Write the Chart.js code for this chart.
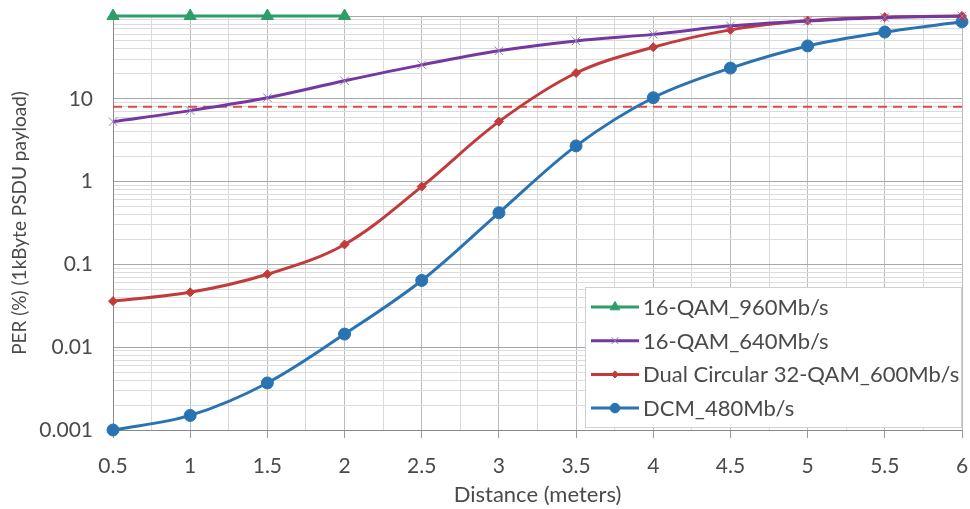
<!DOCTYPE html>
<html>
  <head>
    <title>PER vs Distance</title>
    <style>
      html, body { margin: 0; padding: 0; background: #fff; }
      #wrap { width: 970px; height: 509px; }
    </style>
  </head>
  <body>
    <script src="https://cdn.jsdelivr.net/npm/chart.js"></script>

    <div id="wrap"><canvas id="perChart" width="970" height="509"></canvas></div>

    <script>
      // distances (meters) and PER (%) per modulation
      const distances = [0.5, 1, 1.5, 2, 2.5, 3, 3.5, 4, 4.5, 5, 5.5, 6];
      const qam960 = [100, 100, 100, 100];
      const qam640 = [5.3, 7.2, 10.3, 16.5, 25.7, 38, 50, 60, 76, 87, 96, 100];
      const dualCircular600 = [0.036, 0.046, 0.076, 0.174, 0.87, 5.3, 20.5, 42, 68, 88, 97, 100];
      const dcm480 = [0.001, 0.0015, 0.0037, 0.0144, 0.064, 0.42, 2.7, 10.3, 23.5, 43.5, 64, 85];
      const perLimit = 8; // dashed target line

      const xTickLabels = [0.5, 1, 1.5, 2, 2.5, 3, 3.5, 4, 4.5, 5, 5.5, 6];
      const yTickLabels = [0.001, 0.01, 0.1, 1, 10];
      const seriesNames = ['16-QAM_960Mb/s', '16-QAM_640Mb/s', 'Dual Circular 32-QAM_600Mb/s', 'DCM_480Mb/s'];

      const FONT = 'Lato, "Open Sans", sans-serif';
      const TEXT = '#4a4a4a';

      const toPoints = vals => vals.map((v, i) => ({ x: distances[i], y: v }));

      // decade grid: 1..9 x 10^e from 0.001 up to 100
      function logTicks() {
        const out = [];
        for (let e = -3; e <= 1; e++) {
          for (let m = 1; m <= 9; m++) out.push(+(m * Math.pow(10, e)).toPrecision(3));
        }
        out.push(100);
        return out;
      }
      const isDecade = v => Math.abs(Math.log10(v) - Math.round(Math.log10(v))) < 1e-9;
      const isHalf = v => Math.abs(v * 2 - Math.round(v * 2)) < 1e-9;

      // legend drawn inside the plot, bottom right, like the original
      const insideLegend = {
        id: 'insideLegend',
        afterDraw(chart) {
          const ctx = chart.ctx;
          const area = chart.chartArea;
          const x0 = 585, y0 = 287, x1 = area.right, y1 = area.bottom - 2;
          ctx.save();
          ctx.fillStyle = '#fff';
          ctx.fillRect(x0, y0, x1 - x0, y1 - y0);
          ctx.strokeStyle = '#d0d0d0';
          ctx.lineWidth = 1;
          ctx.strokeRect(x0 + 0.5, y0 + 0.5, x1 - x0 - 1, y1 - y0 - 1);
          ctx.font = '22px ' + FONT;
          ctx.textBaseline = 'middle';
          for (let i = 0; i < 4; i++) {
            const ds = chart.data.datasets[i];
            const cy = 307 + i * 33.7;
            ctx.strokeStyle = ds.borderColor;
            ctx.lineWidth = 3;
            ctx.beginPath();
            ctx.moveTo(591, cy);
            ctx.lineTo(639, cy);
            ctx.stroke();
            ctx.fillStyle = ds.pointBackgroundColor;
            ctx.strokeStyle = ds.pointBorderColor;
            ctx.lineWidth = ds.pointBorderWidth;
            Chart.helpers.drawPoint(ctx, { pointStyle: ds.pointStyle, radius: ds.pointRadius * 0.8, rotation: 0, borderWidth: ds.pointBorderWidth }, 615, cy);
            ctx.fillStyle = TEXT;
            ctx.fillText(seriesNames[i], 643, cy + 1);
          }
          ctx.restore();
        }
      };

      const ctx = document.getElementById('perChart').getContext('2d');
      const chart = new Chart(ctx, {
        type: 'line',
        data: {
          datasets: [
            {
              label: seriesNames[0],
              data: toPoints(qam960),
              borderColor: '#2e9e68',
              backgroundColor: '#2e9e68',
              pointBackgroundColor: '#2e9e68',
              pointBorderColor: '#2e9e68',
              pointBorderWidth: 1,
              pointStyle: 'triangle',
              pointRadius: 7,
              borderWidth: 3,
              tension: 0,
              clip: false,
            },
            {
              label: seriesNames[1],
              data: toPoints(qam640),
              borderColor: '#7438a0',
              backgroundColor: '#7438a0',
              pointBackgroundColor: '#7438a0',
              pointBorderColor: '#9a78b8',
              pointBorderWidth: 1,
              pointStyle: 'crossRot',
              pointRadius: 6,
              borderWidth: 3,
              tension: 0.35,
              clip: false,
            },
            {
              label: seriesNames[2],
              data: toPoints(dualCircular600),
              borderColor: '#c23b3b',
              backgroundColor: '#c23b3b',
              pointBackgroundColor: '#c23b3b',
              pointBorderColor: '#c23b3b',
              pointBorderWidth: 1,
              pointStyle: 'rectRot',
              pointRadius: 4.5,
              borderWidth: 3,
              tension: 0.35,
              clip: false,
            },
            {
              label: seriesNames[3],
              data: toPoints(dcm480),
              borderColor: '#2a73b2',
              backgroundColor: '#2a73b2',
              pointBackgroundColor: '#2a73b2',
              pointBorderColor: '#2a73b2',
              pointBorderWidth: 1,
              pointStyle: 'circle',
              pointRadius: 6,
              borderWidth: 3,
              tension: 0.35,
              clip: false,
            },
            {
              label: 'limit',
              data: [{ x: distances[0], y: perLimit }, { x: distances[distances.length - 1], y: perLimit }],
              borderColor: '#dc4a48',
              borderWidth: 2,
              borderDash: [9, 6],
              pointRadius: 0,
              tension: 0,
            },
          ],
        },
        options: {
          responsive: false,
          animation: false,
          layout: { padding: { top: 16, right: 7, left: 0, bottom: 0 } },
          plugins: {
            legend: { display: false },
            tooltip: { enabled: false },
          },
          scales: {
            x: {
              type: 'linear',
              min: 0.5,
              max: 6,
              afterFit: s => { s.height = 79; s.paddingLeft = 0; s.paddingRight = 0; },
              afterBuildTicks: s => {
                const t = [];
                for (let v = 0.5; v <= 6.001; v += 0.25) t.push({ value: +v.toFixed(2) });
                s.ticks = t;
              },
              ticks: {
                autoSkip: false,
                maxRotation: 0,
                padding: 16,
                color: TEXT,
                font: { family: FONT, size: 21 },
                callback: v => (xTickLabels.includes(v) ? String(v) : ''),
              },
              grid: {
                color: c => (isHalf(c.tick.value) ? '#bcbcbc' : '#dadada'),
                tickColor: c => (isHalf(c.tick.value) ? '#9a9a9a' : 'rgba(0,0,0,0)'),
                tickLength: 8,
              },
              border: { color: '#8a8a8a', width: 1 },
              title: {
                display: true,
                text: 'Distance (meters)',
                color: TEXT,
                font: { family: FONT, size: 22 },
                padding: { top: 0, bottom: 1 },
              },
            },
            y: {
              type: 'logarithmic',
              min: 0.001,
              max: 100,
              afterFit: s => { s.width = 113; s.paddingTop = 0; s.paddingBottom = 0; },
              afterBuildTicks: s => { s.ticks = logTicks().map(v => ({ value: v })); },
              ticks: {
                autoSkip: false,
                padding: 20,
                color: TEXT,
                font: { family: FONT, size: 21 },
                callback: v => (yTickLabels.includes(+(+v).toPrecision(3)) ? String(+(+v).toPrecision(3)) : ''),
              },
              grid: {
                color: c => (isDecade(c.tick.value) ? '#a8a8a8' : '#dcdcdc'),
                drawTicks: false,
              },
              border: { color: '#8a8a8a', width: 1 },
              title: {
                display: true,
                text: 'PER (%) (1kByte PSDU payload)',
                color: TEXT,
                font: { family: FONT, size: 19 },
                padding: { top: 8, bottom: 4 },
              },
            },
          },
        },
        plugins: [insideLegend],
      });
    </script>
  </body>
</html>
